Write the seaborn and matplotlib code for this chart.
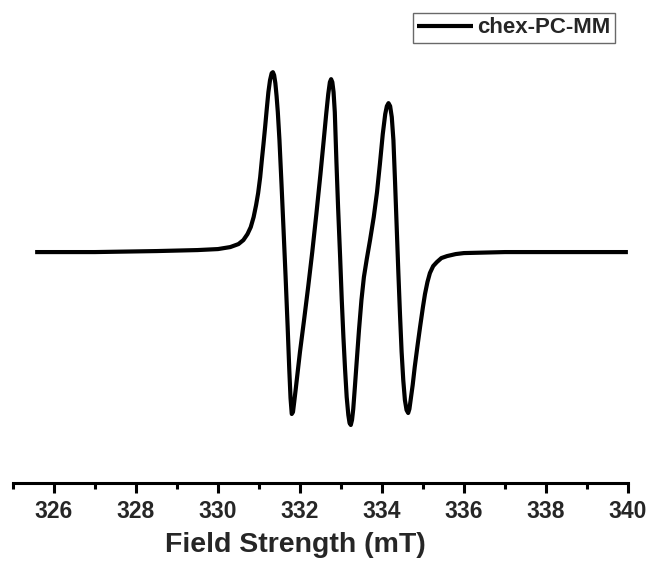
import numpy as np
import pandas as pd
import matplotlib
matplotlib.use('Agg')
import matplotlib.pyplot as plt
from matplotlib.ticker import MultipleLocator
import seaborn as sns

# EPR spectrum (field in mT, intensity in arbitrary units)
field = [325.54, 327.00, 328.50, 329.50, 330.00, 330.30, 330.50, 330.62, 330.72, 330.80,
         330.87, 330.93, 330.98, 331.03, 331.07, 331.11, 331.15, 331.19, 331.23, 331.27,
         331.31, 331.34, 331.37, 331.40, 331.43, 331.46, 331.50, 331.55, 331.60, 331.65,
         331.70, 331.74, 331.77, 331.80, 331.83, 331.86, 331.90, 331.95, 332.00, 332.10,
         332.20, 332.30, 332.40, 332.50, 332.58, 332.64, 332.69, 332.73, 332.76, 332.79,
         332.82, 332.85, 332.89, 332.93, 332.98, 333.02, 333.06, 333.10, 333.14, 333.18,
         333.21, 333.24, 333.27, 333.30, 333.34, 333.38, 333.44, 333.50, 333.56, 333.63,
         333.71, 333.80, 333.88, 333.95, 334.02, 334.08, 334.12, 334.16, 334.20, 334.24,
         334.28, 334.32, 334.36, 334.40, 334.44, 334.48, 334.52, 334.56, 334.60, 334.64,
         334.67, 334.71, 334.75, 334.80, 334.87, 334.93, 335.00, 335.05, 335.11, 335.17,
         335.25, 335.34, 335.45, 335.59, 335.80, 336.00, 337.00, 338.50, 340.00]
signal = [0, 0, 1, 2, 3, 5, 8, 12, 18, 25,
          35, 47, 59, 75, 92, 108, 125, 143, 160, 172,
          179, 180, 177, 169, 156, 140, 112, 68, 22, -25,
          -75, -118, -146, -162, -160, -150, -136, -118, -100, -68,
          -35, 0, 38, 78, 112, 138, 158, 170, 173, 170,
          160, 140, 90, 45, -5, -48, -85, -117, -145, -163,
          -171, -173, -168, -157, -135, -112, -78, -48, -25, -7,
          12, 35, 60, 88, 118, 138, 146, 149, 146, 135,
          112, 70, 25, -20, -62, -100, -128, -148, -158, -161,
          -157, -145, -133, -115, -93, -75, -55, -42, -30, -21,
          -14, -10, -6, -4, -2, -1, 0, 0, 0]
series_name = 'chex-PC-MM'
tick_vals = [326, 328, 330, 332, 334, 336, 338, 340]

df = pd.DataFrame({'field': field, 'signal': signal})

sns.set_style('white')
plt.rcParams['font.family'] = ['Liberation Sans', 'DejaVu Sans']
plt.rcParams['font.weight'] = 'bold'

fig = plt.figure(figsize=(6.5, 5.77), dpi=100)
ax = fig.add_axes([0.02, 0.163, 0.946, 0.802])

sns.lineplot(data=df, x='field', y='signal', ax=ax, color='black', lw=3,
             label=series_name, solid_joinstyle='round', solid_capstyle='butt')

ax.set_xlim(325.0, 340.0)
ax.set_ylim(-231, 232)
ax.set_xticks(tick_vals)
ax.set_xticklabels([str(t) for t in tick_vals], fontsize=16.5, fontweight='bold')
ax.xaxis.set_minor_locator(MultipleLocator(1))
ax.set_yticks([])
ax.set_ylabel('')
ax.set_xlabel('Field Strength (mT)', fontsize=20.5, fontweight='bold', labelpad=7)
ax.xaxis.label.set_x(0.459)

for s in ['top', 'left', 'right']:
    ax.spines[s].set_visible(False)
ax.spines['bottom'].set_linewidth(2.2)
ax.spines['bottom'].set_color('black')
ax.tick_params(axis='x', which='major', direction='out', length=7, width=2.2,
               color='black', pad=5, bottom=True)
ax.tick_params(axis='x', which='minor', direction='out', length=4, width=2.2,
               color='black', bottom=True)

leg = ax.legend(loc='upper right', bbox_to_anchor=(615 / 650, 1 - 13 / 577),
                bbox_transform=fig.transFigure, prop={'size': 16, 'weight': 'bold'},
                frameon=True, fancybox=False, handlelength=2.5, handletextpad=0.2,
                borderpad=0.2, borderaxespad=0)
leg.get_frame().set_edgecolor('#444444')
leg.get_frame().set_linewidth(1.0)
for line in leg.get_lines():
    line.set_linewidth(3)

fig.savefig('out.png', dpi=100)
